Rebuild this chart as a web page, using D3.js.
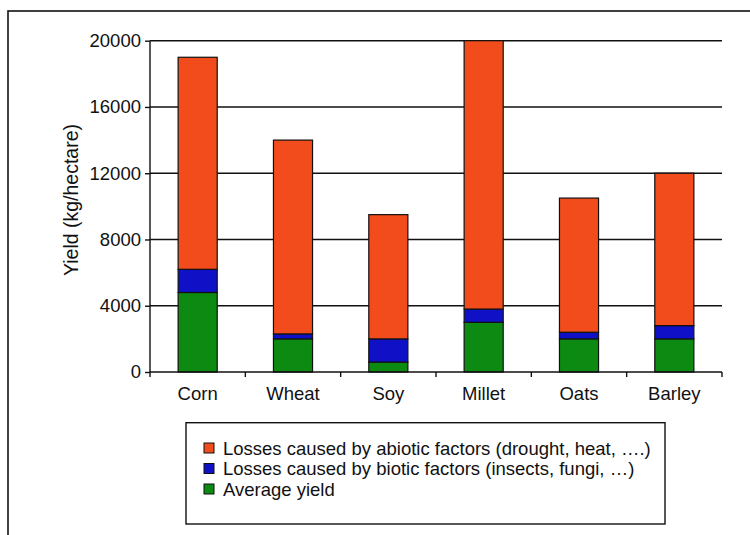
<!DOCTYPE html>
<html>
<head>
<meta charset="utf-8">
<script src="https://cdn.jsdelivr.net/npm/d3@7/dist/d3.min.js"></script>
<style>
  html, body { margin: 0; padding: 0; background: #fff; }
  svg { display: block; font-family: "Liberation Sans", Arial, Helvetica, sans-serif; }
</style>
</head>
<body>
<svg id="chart" width="750" height="535"></svg>
<script>
// Crops and yield components (kg/hectare)
const crops = ["Corn", "Wheat", "Soy", "Millet", "Oats", "Barley"];
const averageYield = [4800, 2000, 600, 3000, 2000, 2000];
const bioticLosses = [1400, 300, 1400, 800, 400, 800];
const abioticLosses = [12800, 11700, 7500, 16200, 8100, 9200];
const yTicks = [0, 4000, 8000, 12000, 16000, 20000];

const seriesKeys = ["average", "biotic", "abiotic"];
const seriesColors = { average: "#0d8a12", biotic: "#1010c6", abiotic: "#f24c1c" };
const legendItems = [
  { key: "abiotic", label: "Losses caused by abiotic factors (drought, heat, ….)" },
  { key: "biotic", label: "Losses caused by biotic factors (insects, fungi, …)" },
  { key: "average", label: "Average yield" }
];

const rows = crops.map((c, i) => ({
  crop: c,
  average: averageYield[i],
  biotic: bioticLosses[i],
  abiotic: abioticLosses[i]
}));

const FONT = 18.5;
const svg = d3.select("#chart");
const plotLeft = 150, plotRight = 722, plotTop = 40.7, plotBottom = 372;

// outer frame (runs off the right and bottom edges)
svg.append("rect")
  .attr("x", 8).attr("y", 11).attr("width", 760).attr("height", 540)
  .attr("fill", "none").attr("stroke", "#111").attr("stroke-width", 1.6);

const x = d3.scaleBand().domain(crops).range([plotLeft, plotRight])
  .paddingInner(0.59).paddingOuter(0.295);
const xCells = d3.scaleBand().domain(crops).range([plotLeft, plotRight]).padding(0);
const y = d3.scaleLinear().domain([0, 20000]).range([plotBottom, plotTop]);

// horizontal gridlines
svg.append("g").selectAll("line").data(yTicks.filter(d => d > 0)).join("line")
  .attr("x1", plotLeft).attr("x2", plotRight)
  .attr("y1", d => y(d)).attr("y2", d => y(d))
  .attr("stroke", "#111").attr("stroke-width", 1.4);

// stacked bars
const stack = d3.stack().keys(seriesKeys)(rows);
svg.append("g").selectAll("g").data(stack).join("g")
  .attr("fill", d => seriesColors[d.key])
  .selectAll("rect").data(d => d).join("rect")
  .attr("x", d => x(d.data.crop))
  .attr("width", x.bandwidth())
  .attr("y", d => y(d[1]))
  .attr("height", d => y(d[0]) - y(d[1]))
  .attr("stroke", "#111").attr("stroke-width", 1.2);

// y axis
const yAxis = svg.append("g").attr("transform", `translate(${plotLeft},0)`)
  .call(d3.axisLeft(y).tickValues(yTicks).tickSize(5).tickPadding(4).tickFormat(d3.format("d")));
yAxis.select(".domain").attr("stroke", "#111").attr("stroke-width", 1.4).attr("d", `M0,${plotTop}V${plotBottom}`);
yAxis.selectAll(".tick line").attr("stroke", "#111").attr("stroke-width", 1.4);
yAxis.selectAll(".tick text").attr("font-size", FONT).attr("fill", "#111")
  .attr("font-family", "'Liberation Sans', Arial, sans-serif");

// x axis: baseline with ticks at category boundaries
const xg = svg.append("g");
xg.append("line").attr("x1", plotLeft).attr("x2", plotRight).attr("y1", plotBottom).attr("y2", plotBottom)
  .attr("stroke", "#111").attr("stroke-width", 1.4);
const boundaries = crops.map(c => xCells(c)).concat([xCells(crops[crops.length - 1]) + xCells.bandwidth()]);
xg.selectAll(".btick").data(boundaries).join("line")
  .attr("x1", d => d).attr("x2", d => d)
  .attr("y1", plotBottom).attr("y2", plotBottom + 5)
  .attr("stroke", "#111").attr("stroke-width", 1.4);
xg.selectAll(".clabel").data(crops).join("text")
  .attr("x", d => x(d) + x.bandwidth() / 2)
  .attr("y", 400)
  .attr("text-anchor", "middle")
  .attr("font-size", FONT).attr("fill", "#111")
  .text(d => d);

// y axis title
svg.append("text")
  .attr("transform", `translate(78,200) rotate(-90)`)
  .attr("text-anchor", "middle")
  .attr("font-size", 19.5).attr("fill", "#111")
  .text("Yield (kg/hectare)");

// legend
const lg = svg.append("g");
lg.append("rect").attr("x", 186).attr("y", 422.7).attr("width", 479).attr("height", 101.3)
  .attr("fill", "#fff").attr("stroke", "#111").attr("stroke-width", 1.4);
const li = lg.selectAll(".li").data(legendItems).join("g")
  .attr("transform", (d, i) => `translate(204,${443 + i * 20.5})`);
li.append("rect").attr("width", 10).attr("height", 10)
  .attr("fill", d => seriesColors[d.key]).attr("stroke", "#111").attr("stroke-width", 1);
li.append("text").attr("x", 19).attr("y", 11.6).attr("font-size", FONT).attr("fill", "#111")
  .text(d => d.label);
</script>
</body>
</html>
